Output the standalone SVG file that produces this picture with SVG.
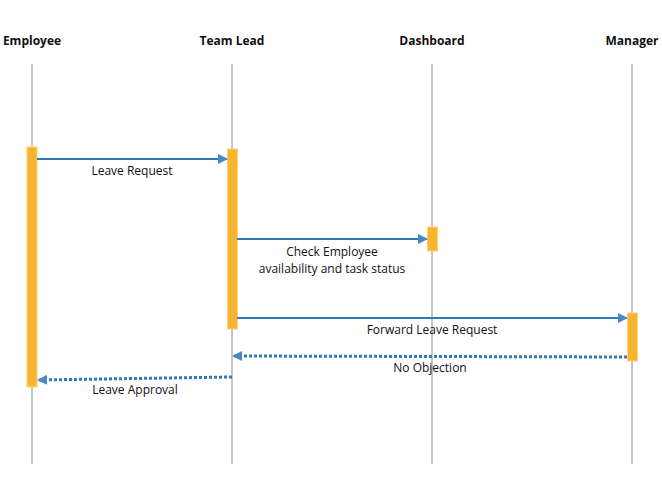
<svg xmlns="http://www.w3.org/2000/svg" width="662" height="498" viewBox="0 0 662 498">
<style>
.hdr{font-family:"Open Sans","Noto Sans",sans-serif;font-size:12px;font-weight:bold;fill:#111;text-anchor:middle}
.lbl{font-family:"Open Sans","Noto Sans",sans-serif;font-size:12px;fill:#111;text-anchor:middle}
.life{stroke:#8c8c8c;stroke-width:1}
.act{fill:#f8b430;stroke:#fcd27a;stroke-width:1}
.msg{stroke:#2f7bb8;stroke-width:2;fill:none}
.ret{stroke:#2f7bb8;stroke-width:3;stroke-dasharray:3 2;fill:none}
</style>
<defs>
<marker id="ah" markerWidth="10" markerHeight="10" refX="9" refY="5" orient="auto" markerUnits="userSpaceOnUse">
<path d="M0,0 L10,5 L0,10 Z" fill="#4a86c0"/>
</marker>
</defs>
<rect width="662" height="498" fill="#fff"/>
<g id="employee">
<text class="hdr" x="32" y="45">Employee</text>
<line class="life" x1="32" y1="64" x2="32" y2="464"/>
<rect class="act" x="27" y="147" width="10" height="240"/>
</g>
<g id="teamlead">
<text class="hdr" x="232" y="45">Team Lead</text>
<line class="life" x1="232" y1="64" x2="232" y2="464"/>
<rect class="act" x="227.5" y="149" width="10" height="180"/>
</g>
<g id="dashboard">
<text class="hdr" x="432" y="45">Dashboard</text>
<line class="life" x1="432" y1="64" x2="432" y2="464"/>
<rect class="act" x="427.5" y="227" width="10" height="24"/>
</g>
<g id="manager">
<text class="hdr" x="632" y="45">Manager</text>
<line class="life" x1="632" y1="64" x2="632" y2="464"/>
<rect class="act" x="627.5" y="313" width="10" height="48"/>
</g>
<g id="connectors">
<line class="msg" x1="37" y1="159" x2="227" y2="159" marker-end="url(#ah)"/>
<text class="lbl" x="132" y="175">Leave Request</text>
<line class="msg" x1="237" y1="239" x2="427" y2="239" marker-end="url(#ah)"/>
<text class="lbl" x="332" y="256">Check Employee</text>
<text class="lbl" x="332" y="273">availability and task status</text>
<line class="msg" x1="237" y1="318" x2="627" y2="318" marker-end="url(#ah)"/>
<text class="lbl" x="432" y="334">Forward Leave Request</text>
<line class="ret" x1="627" y1="357" x2="233" y2="356" marker-end="url(#ah)"/>
<text class="lbl" x="430" y="372">No Objection</text>
<line class="ret" x1="232" y1="377" x2="38" y2="380" marker-end="url(#ah)"/>
<text class="lbl" x="135" y="394">Leave Approval</text>
</g>
</svg>
